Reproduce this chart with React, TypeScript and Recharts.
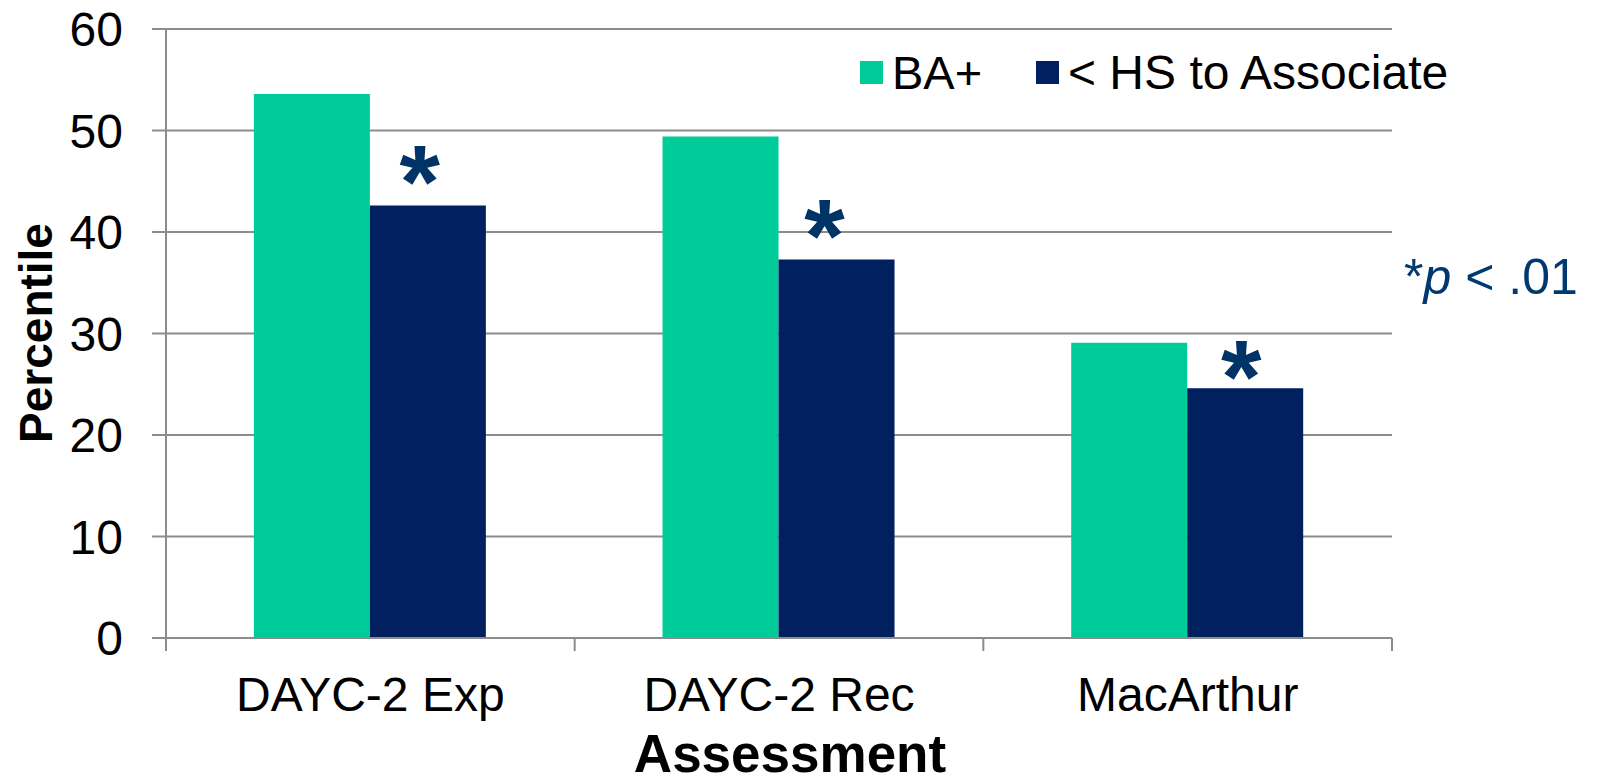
import React from 'react';
import { BarChart, Bar, XAxis, YAxis, CartesianGrid, LabelList } from 'recharts';

const categories = ['DAYC-2 Exp', 'DAYC-2 Rec', 'MacArthur'];
const baPlus = [53.6, 49.4, 29.1];
const hsToAssociate = [42.6, 37.3, 24.6];
const significant = [true, true, true];
const yTicks = [0, 10, 20, 30, 40, 50, 60];
const seriesNames = ['BA+', '< HS to Associate'];
const noteText = { star: '*', p: 'p', rest: ' < .01' };

const GREEN = '#00CC99';
const NAVY = '#002060';
const STAR = '#003366';
const GRID = '#8C8C8C';
const FONT = '"Liberation Sans", Arial, sans-serif';

const CHART_W = 1599;
const CHART_H = 783;
const Y_W = 166;
const MARGIN = { top: 29, right: 207, bottom: 65, left: 0 };
const HALF_BAND = (CHART_W - MARGIN.right - MARGIN.left - Y_W) / categories.length / 2;

const data = categories.map((c, i) => ({
  name: c,
  ba: baPlus[i],
  hs: hsToAssociate[i],
}));

const starDx = [-8, -12, -4];
const starGap = [20, 20, 8];

const CatTick = (props: any) => {
  const { x, y, payload, index } = props;
  const last = index === categories.length - 1;
  return (
    <g>
      <line x1={x - HALF_BAND} x2={x - HALF_BAND} y1={y} y2={y + 13} stroke={GRID} strokeWidth={2} />
      {last && <line x1={x + HALF_BAND} x2={x + HALF_BAND} y1={y} y2={y + 13} stroke={GRID} strokeWidth={2} />}
      <text x={x} y={y + 73} textAnchor="middle" fontFamily={FONT} fontSize={48} fill="#000">
        {payload.value}
      </text>
    </g>
  );
};

const StarLabel = (props: any) => {
  const { x, y, width, index } = props;
  if (!significant[index]) return null;
  const fs = 104;
  return (
    <text
      x={x + width / 2 + starDx[index]}
      y={y - starGap[index] + fs * 0.31}
      textAnchor="middle"
      fontFamily={FONT}
      fontWeight="bold"
      fontSize={fs}
      fill={STAR}
    >
      *
    </text>
  );
};

export default function App() {
  return (
    <div style={{ position: 'absolute', left: 0, top: 0, width: CHART_W, height: CHART_H, background: '#fff' }}>
      <BarChart
        width={CHART_W}
        height={CHART_H}
        data={data}
        margin={MARGIN}
        barCategoryGap="21.5%"
        barGap={0}
      >
        <CartesianGrid vertical={false} stroke={GRID} strokeWidth={2} />
        <XAxis
          dataKey="name"
          type="category"
          interval={0}
          height={80}
          tickSize={0}
          tickMargin={0}
          tickLine={false}
          axisLine={{ stroke: GRID, strokeWidth: 2 }}
          tick={<CatTick />}
        />
        <YAxis
          width={Y_W}
          domain={[0, 60]}
          ticks={yTicks}
          interval={0}
          tickSize={14}
          tickMargin={29}
          tickLine={{ stroke: GRID, strokeWidth: 2 }}
          axisLine={{ stroke: GRID, strokeWidth: 2 }}
          tick={{ fontFamily: FONT, fontSize: 48, fill: '#000' }}
        />
        <Bar dataKey="ba" name={seriesNames[0]} fill={GREEN} isAnimationActive={false} />
        <Bar dataKey="hs" name={seriesNames[1]} fill={NAVY} isAnimationActive={false}>
          <LabelList dataKey="hs" content={<StarLabel />} />
        </Bar>
        <g>
          <rect x={860} y={61} width={23} height={23} fill={GREEN} />
          <text x={892} y={89} fontFamily={FONT} fontSize={47} fill="#000">{seriesNames[0]}</text>
          <rect x={1036} y={61} width={23} height={23} fill={NAVY} />
          <text x={1068} y={89} fontFamily={FONT} fontSize={48} fill="#000">{seriesNames[1]}</text>
        </g>
        <text
          x={36}
          y={333}
          transform="rotate(-90 36 333)"
          textAnchor="middle"
          dominantBaseline="central"
          fontFamily={FONT}
          fontWeight="bold"
          fontSize={46}
          fill="#000"
        >
          Percentile
        </text>
        <text x={790} y={772} textAnchor="middle" fontFamily={FONT} fontWeight="bold" fontSize={53} fill="#000">
          Assessment
        </text>
        <text x={1404} y={294} fontFamily={FONT} fontSize={50} fill="#003870">
          {noteText.star}
          <tspan fontStyle="italic">{noteText.p}</tspan>
          <tspan>{noteText.rest}</tspan>
        </text>
      </BarChart>
    </div>
  );
}
